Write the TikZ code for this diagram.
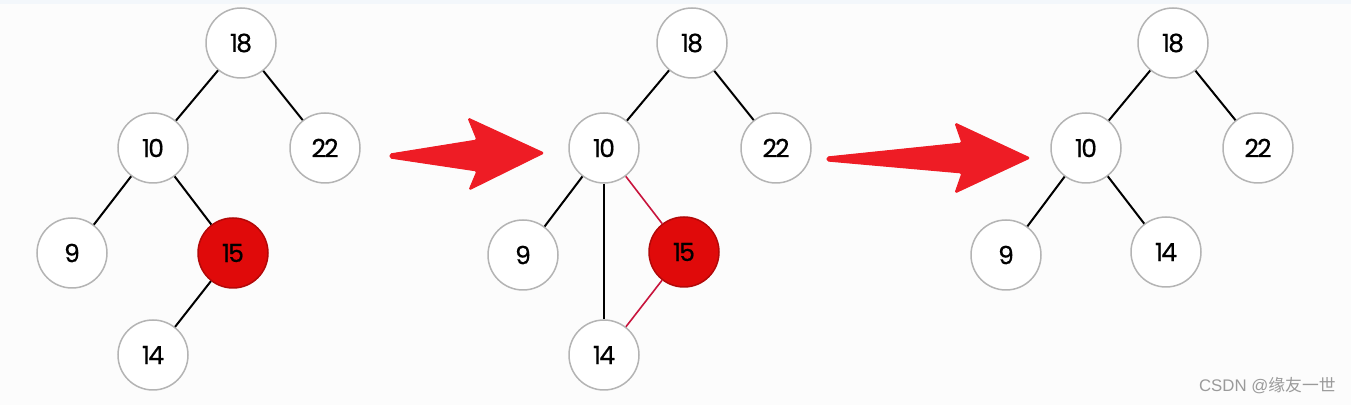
\documentclass[tikz,border=0pt]{standalone}
\usepackage{fontspec}
\setmainfont{Poppins}[LetterSpace=-7, FakeBold=0.6]
\newfontfamily\wmfont{Liberation Sans}
\newfontfamily\cjk{Noto Sans CJK SC}
\definecolor{bg}{HTML}{FCFCFC}
\definecolor{topband}{HTML}{F3F7FB}
\definecolor{nodeborder}{HTML}{B4B4B4}
\definecolor{redfill}{HTML}{E00A0A}
\definecolor{rededge}{HTML}{C8143C}
\definecolor{arrowred}{HTML}{EE1C25}
\definecolor{wm}{HTML}{9A9A9A}
\tikzset{
  tnode/.style={circle, draw=nodeborder, line width=0.75pt, fill=white, minimum size=35pt, inner sep=0pt, font=\fontsize{12.5}{12.5}\selectfont},
  rnode/.style={tnode, fill=redfill, draw=redfill!80!black},
  tedge/.style={line width=1pt, black},
  redge/.style={line width=0.8pt, rededge},
  bigarrow/.style={fill=arrowred, draw=arrowred, line width=0.5pt, line join=round, rounded corners=0.8pt},
}
\begin{document}
\begin{tikzpicture}[x=0.5pt,y=-0.5pt]
\fill[bg] (0,0) rectangle (1351,405);
\fill[topband] (0,0) rectangle (1351,4);
\useasboundingbox (0,0) rectangle (1351,405);
% Tree 1
\node[tnode] (a18) at (241,43) {18};
\node[tnode] (a10) at (153,148) {10};
\node[tnode] (a22) at (325,148) {22};
\node[tnode] (a9) at (72,253) {9};
\node[rnode] (a15) at (233,253) {15};
\node[tnode] (a14) at (153,355) {14};
\draw[tedge] (a18) -- (a10);
\draw[tedge] (a18) -- (a22);
\draw[tedge] (a10) -- (a9);
\draw[tedge] (a10) -- (a15);
\draw[tedge] (a15) -- (a14);
% Tree 2
\node[tnode] (b18) at (692,43) {18};
\node[tnode] (b10) at (604,148) {10};
\node[tnode] (b22) at (776,148) {22};
\node[tnode] (b9) at (523,255) {9};
\node[rnode] (b15) at (684,252) {15};
\node[tnode] (b14) at (604,355) {14};
\draw[tedge] (b18) -- (b10);
\draw[tedge] (b18) -- (b22);
\draw[tedge] (b10) -- (b9);
\draw[tedge] (b10) -- (b14);
\draw[redge] (b10) -- (b15);
\draw[redge] (b15) -- (b14);
% Tree 3
\node[tnode] (c18) at (1173,43) {18};
\node[tnode] (c10) at (1086,148) {10};
\node[tnode] (c22) at (1258,148) {22};
\node[tnode] (c9) at (1006,255) {9};
\node[tnode] (c14) at (1166,252) {14};
\draw[tedge] (c18) -- (c10);
\draw[tedge] (c18) -- (c22);
\draw[tedge] (c10) -- (c9);
\draw[tedge] (c10) -- (c14);
% Arrows
\fill[bigarrow] (390,154) -- (477,140) -- (468,118) -- (544,153) -- (469,190) -- (477,171) -- (390,158) -- cycle;
\fill[bigarrow] (827,157) -- (962,143) -- (955,123) -- (1030,158) -- (955,193) -- (962,173) -- (827,161) -- cycle;
% Watermark
\node[anchor=base east, text=wm, inner sep=0pt, font=\fontsize{8.4}{8.4}\selectfont] (wmk) at (1336,392) {\wmfont CSDN @\cjk 缘友一世};
\end{tikzpicture}
\end{document}
